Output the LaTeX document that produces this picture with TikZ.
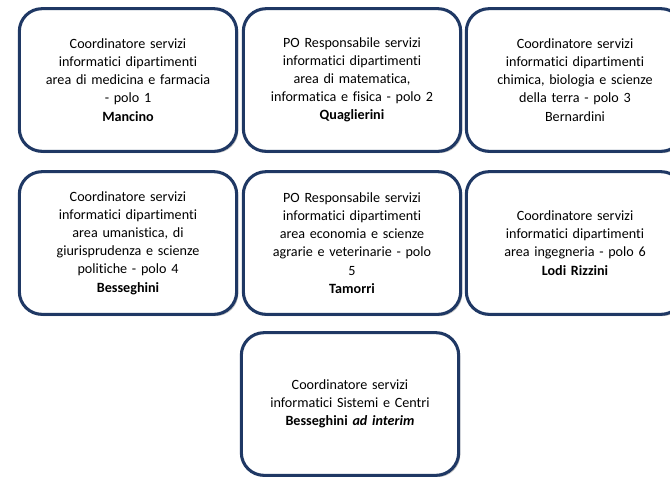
\documentclass[tikz,border=0pt]{standalone}
\usepackage{fontspec}
\setmainfont{Carlito}[Ligatures=NoCommon]
\usepackage{tikz}
\usetikzlibrary{shadows}

\definecolor{bordoblu}{RGB}{31,56,100}

\begin{document}
\begin{tikzpicture}[x=0.75pt,y=-0.75pt,
	ruolo/.style={draw=bordoblu, line width=2.3pt, fill=white, rounded corners=17pt,
		minimum width=163pt, minimum height=107pt, align=center, text width=150pt,
		font=\fontsize{10.6}{13.6}\selectfont,
		drop shadow={shadow xshift=1.3pt, shadow yshift=-1.3pt, opacity=0.35, fill=black!70}}]
	
	% ---- (A) page size ----
	\useasboundingbox (0,0) rectangle (670,476);
	\clip (0,0) rectangle (670,476);
	
	% ---- (B) piece of a box above the page ----
	\draw[bordoblu, line width=2.3pt, rounded corners=17pt] (-200,-150) rectangle (12,1);
	
	% ---- (C) first row: poli 1-3 ----
	\node[ruolo] (polo1) at (128,80) {Coordinatore servizi\\informatici dipartimenti\\area di medicina e farmacia\\- polo 1\\\textbf{Mancino}};
	\node[ruolo] (polo2) at (352,80) {PO Responsabile servizi\\informatici dipartimenti\\area di matematica,\\informatica e fisica - polo 2\\\textbf{Quaglierini}};
	\node[ruolo] (polo3) at (575,80) {Coordinatore servizi\\informatici dipartimenti\\chimica, biologia e scienze\\della terra - polo 3\\Bernardini};
	
	% ---- (D) second row: poli 4-6 ----
	\node[ruolo] (polo4) at (128,243) {Coordinatore servizi\\informatici dipartimenti\\area umanistica, di\\giurisprudenza e scienze\\politiche - polo 4\\\textbf{Besseghini}};
	\node[ruolo] (polo5) at (352,243) {PO Responsabile servizi\\informatici dipartimenti\\area economia e scienze\\agrarie e veterinarie - polo\\5\\\textbf{Tamorri}};
	\node[ruolo] (polo6) at (575,243) {Coordinatore servizi\\informatici dipartimenti\\area ingegneria - polo 6\\\textbf{Lodi Rizzini}};
	
	% ---- (E) third row: sistemi e centri ----
	\node[ruolo] (sistemi) at (350,404) {Coordinatore servizi\\informatici Sistemi e Centri\\\textbf{Besseghini \textit{ad interim}}};
	
\end{tikzpicture}
\end{document}
